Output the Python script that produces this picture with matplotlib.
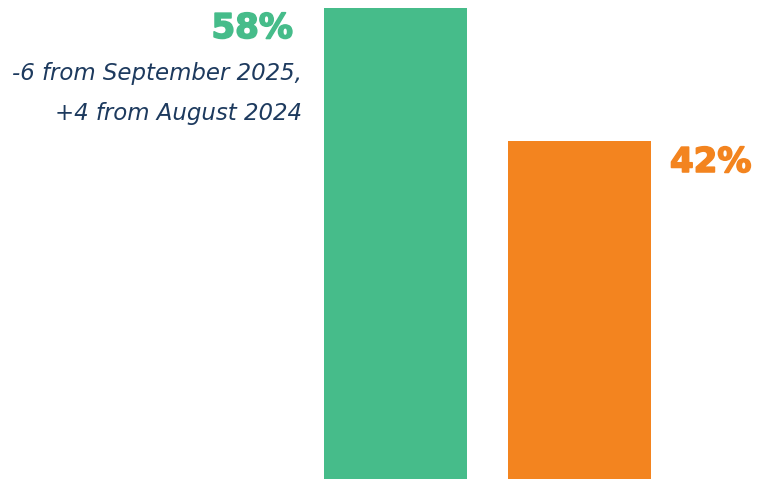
import matplotlib.pyplot as plt
import matplotlib.patheffects as pe

categories = ["A", "B"]
values = [58, 42]
labels = ["58%", "42%"]
colors = ["#46BC8A", "#F3841F"]
note_lines = ["-6 from September 2025,", "+4 from August 2024"]

fig = plt.figure(figsize=(7.65, 4.79), dpi=100)
ax = fig.add_axes([0, 0, 1, 1])

x = list(range(len(categories)))
bars = ax.bar(x, values, width=0.777, color=colors)

# bars run past the bottom edge of the picture
ax.set_xlim(-2.149, 2.008)
ax.set_ylim(1.32, 58.96)
ax.axis("off")

g, o = bars[0], bars[1]

# big value labels (a thin stroke makes them look heavier)
for bar, lab, col, dx, dy, ha in [
        (g, labels[0], colors[0], -31, -30, "right"),
        (o, labels[1], colors[1], 19, -31, "left")]:
    xa = bar.get_x() if ha == "right" else bar.get_x() + bar.get_width()
    ax.annotate(lab, (xa, bar.get_height()), xytext=(dx, dy),
                textcoords="offset pixels", ha=ha, va="baseline",
                fontsize=24.5, fontweight="bold", color=col,
                path_effects=[pe.Stroke(linewidth=1.2, foreground=col), pe.Normal()])

# change note under 58%
for i, line in enumerate(note_lines):
    ax.annotate(line, (g.get_x(), values[0]), xytext=(-22, -72 - 40 * i),
                textcoords="offset pixels", ha="right", va="baseline",
                fontsize=16.5, style="italic", color="#1D3A5E",
                family="DejaVu Sans")

fig.savefig("out.png", dpi=100)
